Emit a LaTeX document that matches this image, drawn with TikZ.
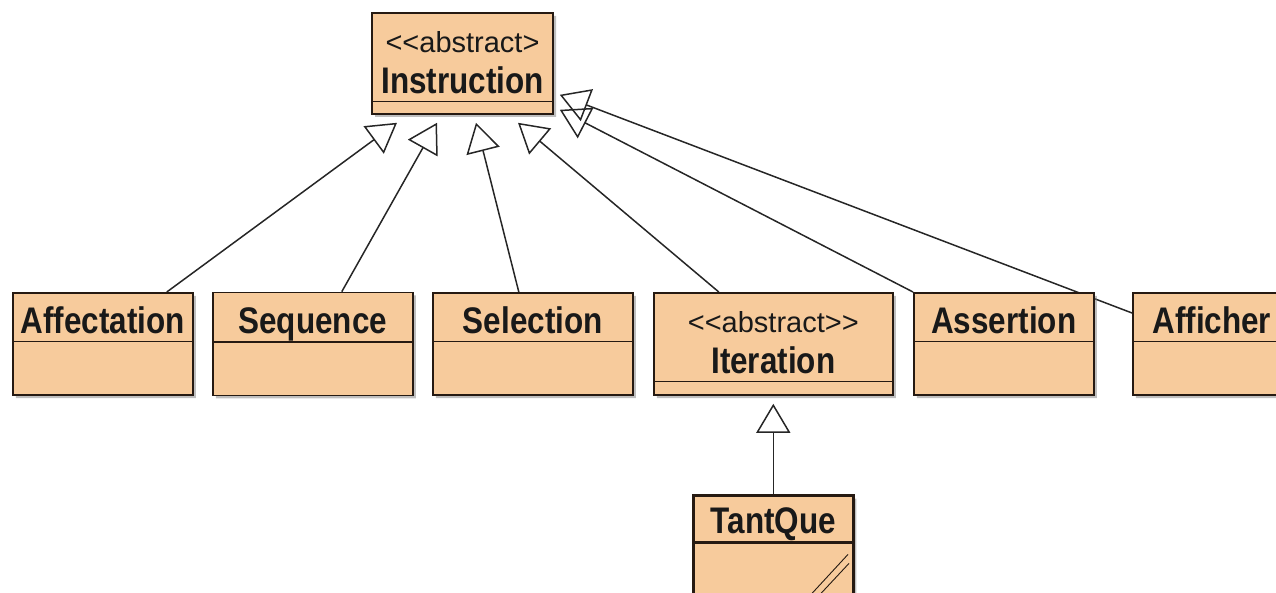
\documentclass[tikz,border=0pt]{standalone}
\usepackage{fontspec}
\newfontfamily\classfont[FakeStretch=0.85]{Liberation Sans}
\newfontfamily\stereofont{Liberation Sans}
\usetikzlibrary{shapes,
                arrows.meta,
                positioning,
                shadows,
                backgrounds}
\definecolor{classfill}{RGB}{247,203,156}
\definecolor{classline}{RGB}{38,26,18}
\newcommand{\umlclassname}[2][47pt]{\rule[-7pt]{0pt}{#1}#2}
\newcommand{\umlabstractname}[2]{\rule[-7pt]{0pt}{87pt}%
   \raisebox{0pt}[0pt][0pt]{\begin{tabular}[b]{@{}c@{}}%
   {\stereofont\mdseries\fontsize{29}{41}\selectfont
    <\kern0pt<abstract>\kern0pt#1}\\#2%
   \end{tabular}}}
\tikzset{class/.style =
   {rectangle split,
    rectangle split parts=2,
    draw=classline,
    line width=1.6pt,
    fill=classfill,
    text=black!90,
    inner sep=0pt,
    font=\classfont\bfseries\fontsize{37}{41}\selectfont,
    drop shadow={shadow xshift=3pt,
                 shadow yshift=-3pt,
                 fill=black!50,
                 opacity=0.5}}}
\tikzset{inherit/.style =
   {draw=black!85,
    line width=1.5pt,
    -{Triangle[open, length=29pt, width=34pt]}}}

\begin{document}
\begin{tikzpicture}[x=1pt, y=1pt]
    \useasboundingbox (0,0) rectangle (1276,592);
    \clip (0,0) rectangle (1276,592);

    \node [class,
           minimum width=181pt,
           anchor=north] (instr) at (462.5,580)
    {\umlabstractname{}{Instruction}
     \nodepart{two} \rule{0pt}{11pt}};

    \node [class,
           minimum width=180pt,
           anchor=north west] (aff) at (12,300)
    {\umlclassname{Affectation}
     \nodepart{two} \rule{0pt}{52pt}};

    \node [class,
           minimum width=200pt,
           right = 18.4pt of aff] (seq)
    {\umlclassname{Sequence}
     \nodepart{two} \rule{0pt}{52pt}};

    \node [class,
           minimum width=200pt,
           right = 18.4pt of seq] (sel)
    {\umlclassname{Selection}
     \nodepart{two} \rule{0pt}{52pt}};

    \node [class,
           minimum width=239pt,
           right = 19.4pt of sel] (iter)
    {\umlabstractname{>}{Iteration}
     \nodepart{two} \rule{0pt}{12pt}};

    \node [class,
           minimum width=180pt,
           right = 19.4pt of iter] (ass)
    {\umlclassname{Assertion}
     \nodepart{two} \rule{0pt}{52pt}};

    \node [class,
           minimum width=158pt,
           right = 37.4pt of ass] (affi)
    {\umlclassname{Afficher}
     \nodepart{two} \rule{0pt}{52pt}};

    \node [class,
           line width=3.5pt,
           minimum width=160pt,
           below = 98pt of iter.south,
           anchor=north] (tant)
    {\umlclassname[43pt]{TantQue}
     \nodepart{two} \rule{0pt}{52pt}};

    % marks in the corner of TantQue
    \draw [classline, line width=0.9pt]
        ([shift={(-43,-51)}]tant.one split east) -- ([shift={(-7,-12)}]tant.one split east)
        ([shift={(-34,-51)}]tant.one split east) -- ([shift={(-6,-21)}]tant.one split east);

    \coordinate (instr-aff)  at ([xshift=-65.5, yshift=-8]instr.south);
    \coordinate (instr-seq)  at ([xshift=-25.5, yshift=-8]instr.south);
    \coordinate (instr-sel)  at ([xshift=13.5, yshift=-8]instr.south);
    \coordinate (instr-iter) at ([xshift=55.5, yshift=-8]instr.south);
    \coordinate (instr-ass)  at ([xshift=6, yshift=5]instr.south east);
    \coordinate (instr-affi) at ([xshift=6, yshift=20]instr.south east);
    \coordinate (iter-tant)  at ([yshift=-8]iter.south);

    \begin{scope}[on background layer]
        \draw [inherit] ([xshift=64]aff.north) -- (instr-aff);
        \draw [inherit] ([xshift=29]seq.north) -- (instr-seq);
        \draw [inherit] ([xshift=-14]sel.north) -- (instr-sel);
        \draw [inherit] ([xshift=-54.5]iter.north) -- (instr-iter);
        \draw [inherit] (ass.north west) -- (instr-ass);
        \draw [inherit] ([yshift=-21]affi.north west) -- (instr-affi);
        \draw [inherit] (tant.north) -- (iter-tant);
    \end{scope}
\end{tikzpicture}
\end{document}
